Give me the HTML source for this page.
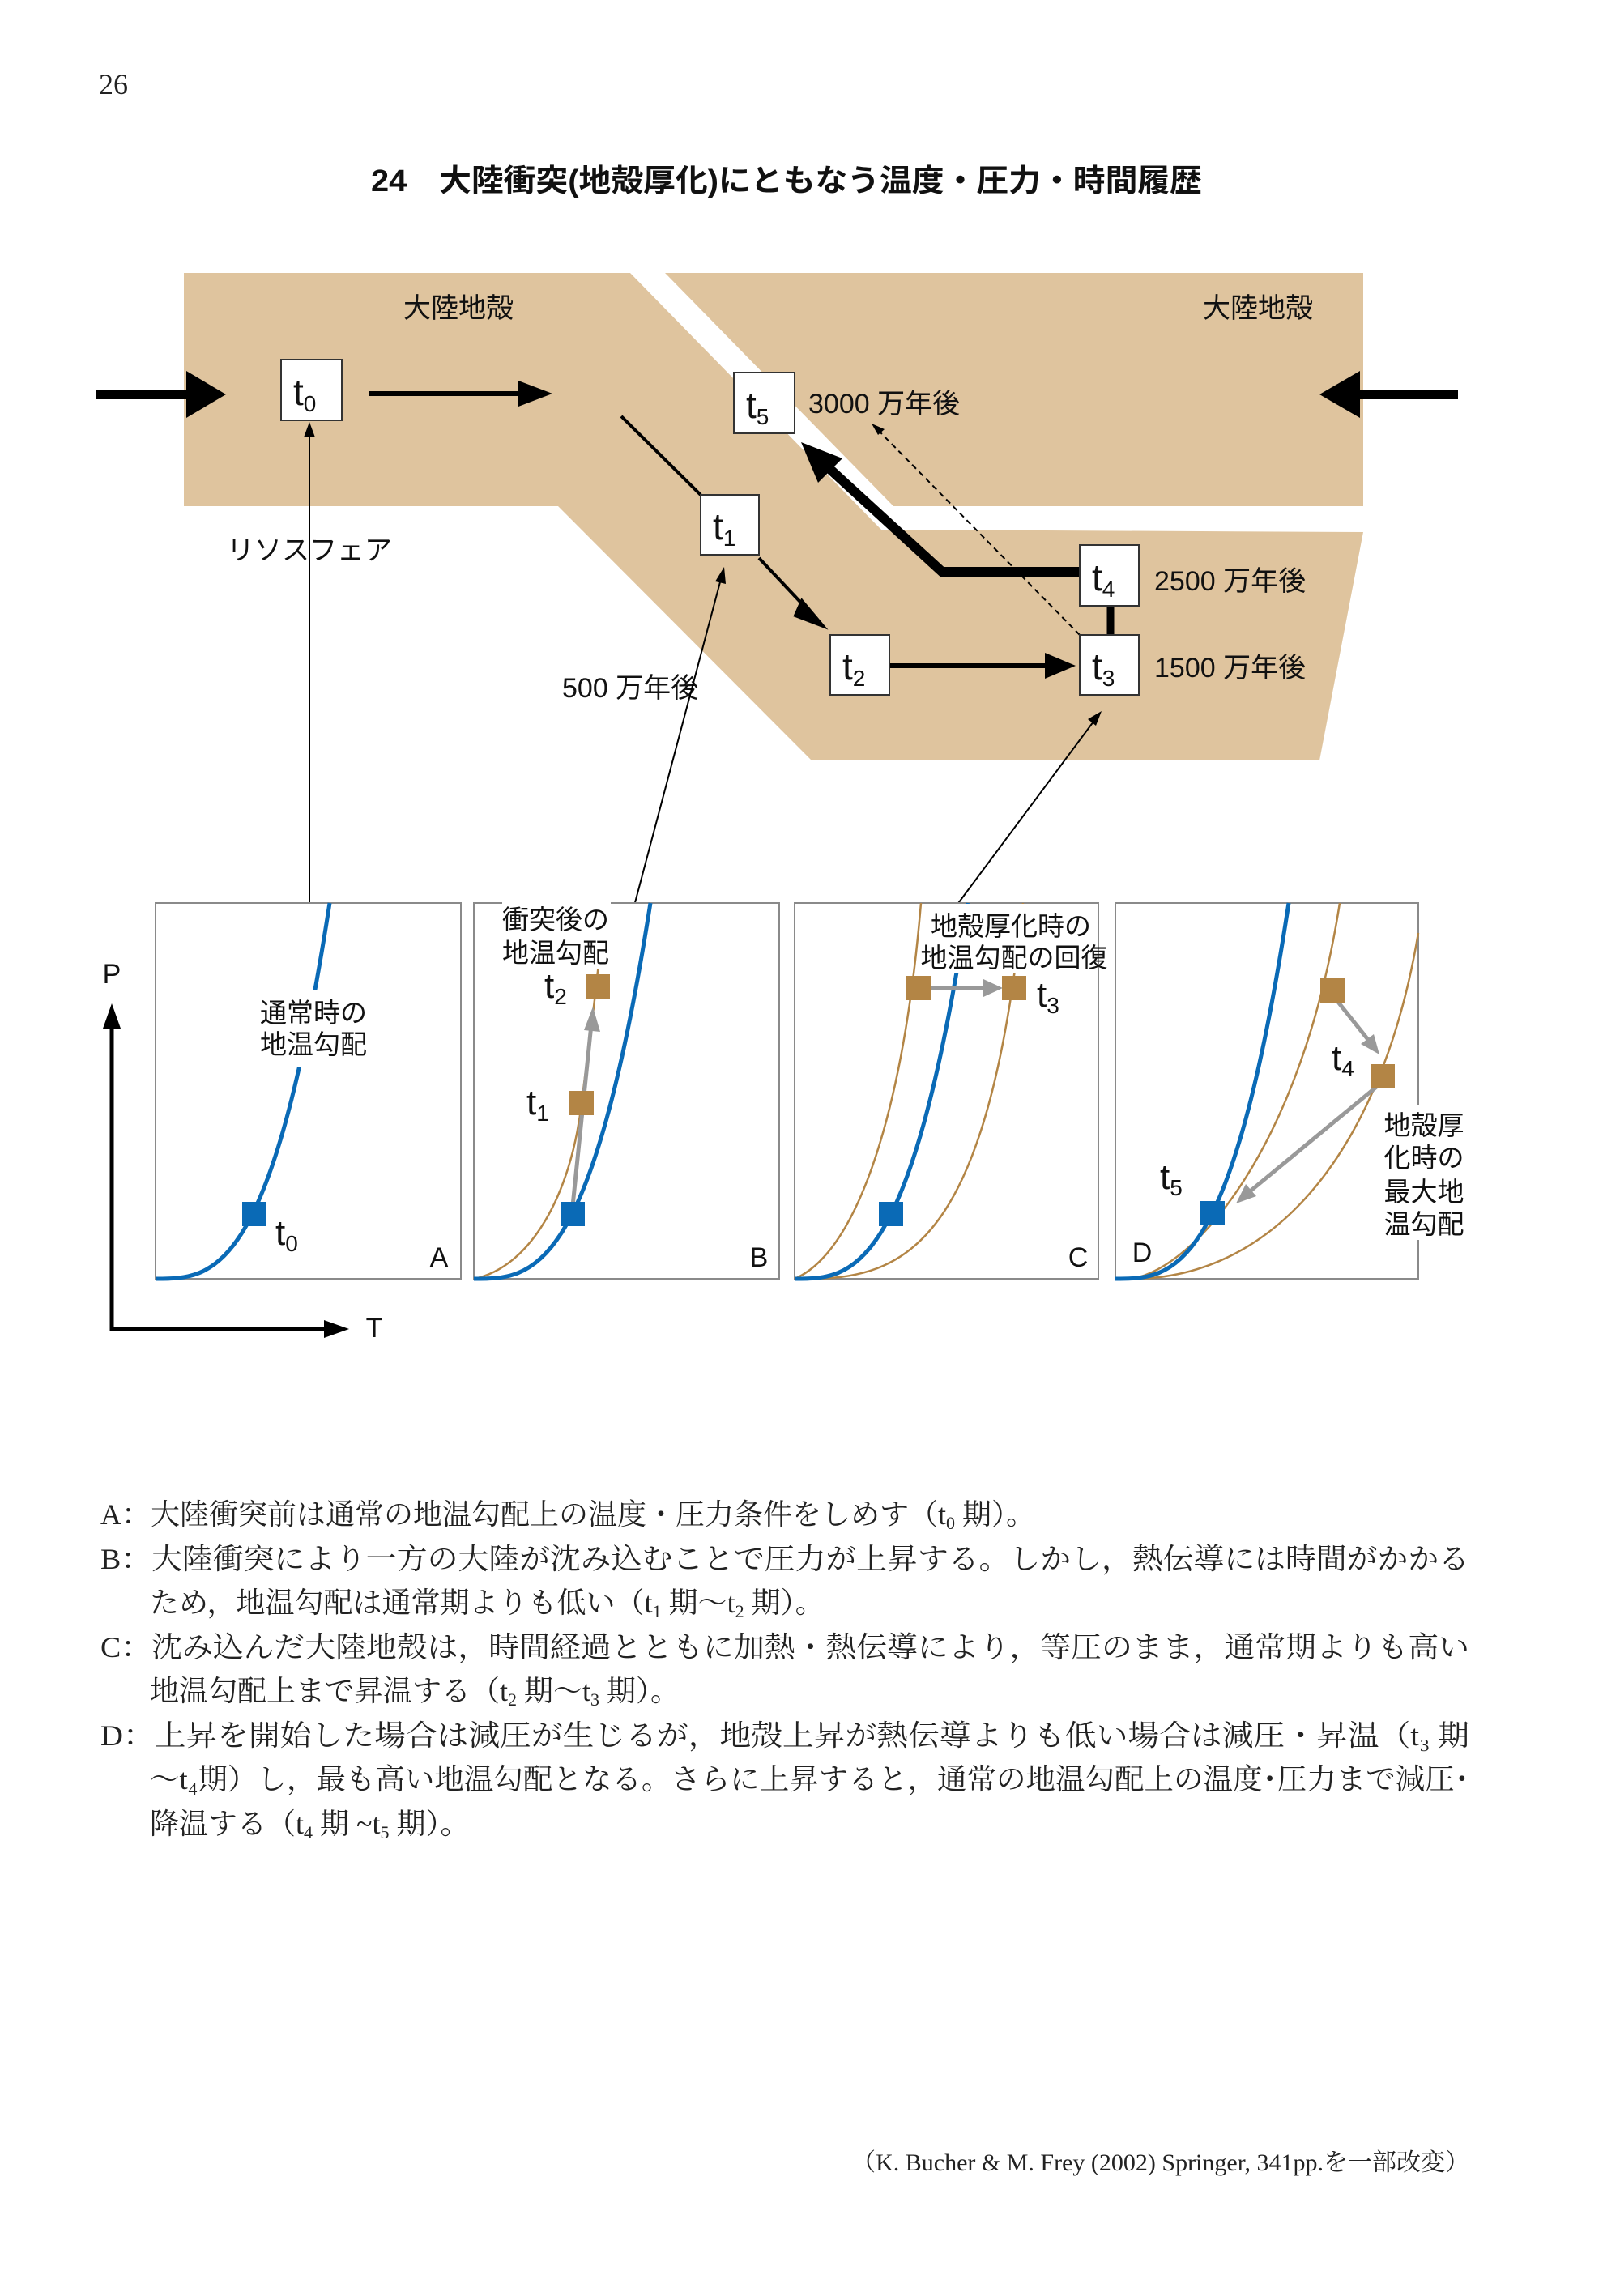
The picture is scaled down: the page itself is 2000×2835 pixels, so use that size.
<!DOCTYPE html>
<html><head><meta charset="utf-8">
<style>
html,body{margin:0;padding:0;background:#fff;}
svg{display:block;}
.s{font-family:"Liberation Sans","Noto Sans CJK JP",sans-serif;}
.r{font-family:"Liberation Serif","Noto Serif CJK SC",serif;}
</style></head><body>
<svg width="2000" height="2835" viewBox="0 0 2000 2835" xmlns="http://www.w3.org/2000/svg">
<rect width="2000" height="2835" fill="#fff"/>
<text x="122" y="116" class="r" font-size="36" fill="#222">26</text>
<text x="458" y="236" class="s" font-size="38" font-weight="bold" fill="#111" textLength="1026" lengthAdjust="spacingAndGlyphs">24　大陸衝突(地殻厚化)にともなう温度・圧力・時間履歴</text>

<polygon points="227,337 778,337 1088,654 1683,657 1629,939 1002,939 689,625 227,625" fill="#dfc49e"/>
<polygon points="821,337 1683,337 1683,625 1103,625" fill="#dfc49e"/>
<g class="s" font-size="34" fill="#111">
<text x="566" y="392" text-anchor="middle">大陸地殻</text>
<text x="1553" y="392" text-anchor="middle">大陸地殻</text>
<text x="998" y="510">3000 万年後</text>
<text x="1425" y="729">2500 万年後</text>
<text x="1425" y="836">1500 万年後</text>
<text x="694" y="861">500 万年後</text>
<text x="382" y="691" text-anchor="middle">リソスフェア</text>
</g>

<rect x="118" y="481" width="122" height="12" fill="#000"/>
<polygon points="230,458 279,487 230,516" fill="#000"/>
<rect x="1670" y="481" width="130" height="12" fill="#000"/>
<polygon points="1679,458 1629,487 1679,516" fill="#000"/>
<line x1="456" y1="486" x2="650" y2="486" stroke="#000" stroke-width="6"/>
<polygon points="640,470 682,486 640,502" fill="#000"/>
<line x1="767" y1="514" x2="865" y2="611" stroke="#000" stroke-width="4"/>
<line x1="937" y1="689" x2="1000" y2="756" stroke="#000" stroke-width="4"/>
<polygon points="990,742 1016,773 982,760" fill="#000" stroke="#000" stroke-width="4" stroke-linejoin="miter"/>
<line x1="1098" y1="822" x2="1300" y2="822" stroke="#000" stroke-width="6"/>
<polygon points="1290,806 1328,822 1290,838" fill="#000"/>
<line x1="1371" y1="746" x2="1371" y2="786" stroke="#000" stroke-width="9"/>
<polyline points="1333,706 1163,706 1020,575" fill="none" stroke="#000" stroke-width="12" stroke-linejoin="miter"/>
<polygon points="989,546 1040,566 1010,596" fill="#000"/>
<line x1="1333" y1="784" x2="1084" y2="531" stroke="#000" stroke-width="2" stroke-dasharray="7,5"/>
<polygon points="1076,523 1092,530 1084,537" fill="#000"/>
<line x1="382" y1="1115" x2="382" y2="535" stroke="#000" stroke-width="2"/>
<polygon points="382,521 375,540 389,540" fill="#000"/>
<line x1="782" y1="1122" x2="890" y2="715" stroke="#000" stroke-width="2"/>
<polygon points="894,700 883,718 896,721" fill="#000"/>
<line x1="1178" y1="1122" x2="1350" y2="891" stroke="#000" stroke-width="2"/>
<polygon points="1360,878 1343,888 1353,896" fill="#000"/>

<g stroke="#333" stroke-width="2" fill="#fff">
<rect x="347" y="444" width="75" height="75"/>
<rect x="906" y="460" width="75" height="75"/>
<rect x="865" y="611" width="72" height="74"/>
<rect x="1333" y="673" width="73" height="75"/>
<rect x="1333" y="784" width="73" height="74"/>
<rect x="1025" y="784" width="73" height="74"/>
</g>
<g class="s" font-size="46" fill="#111">
<text x="362" y="500">t<tspan font-size="28" dy="8">0</tspan></text>
<text x="921" y="516">t<tspan font-size="28" dy="8">5</tspan></text>
<text x="880" y="666">t<tspan font-size="28" dy="8">1</tspan></text>
<text x="1348" y="729">t<tspan font-size="28" dy="8">4</tspan></text>
<text x="1348" y="839">t<tspan font-size="28" dy="8">3</tspan></text>
<text x="1040" y="839">t<tspan font-size="28" dy="8">2</tspan></text>
</g>

<g fill="#fff" stroke="#8a8a8a" stroke-width="2">
<rect x="192" y="1115" width="377" height="464"/>
<rect x="585" y="1115" width="377" height="464"/>
<rect x="981" y="1115" width="375" height="464"/>
<rect x="1377" y="1115" width="374" height="464"/>
</g>
<g transform="translate(192,1115)" fill="none">
<path d="M0,464 C72,464 143,464 215,0" stroke="#0a6ab6" stroke-width="5"/>
</g>
<g transform="translate(585,1115)" fill="none">
<path d="M0,464 C70,450 120,360 133,247 C140,190 150,120 155,64" stroke="#b38545" stroke-width="2.5"/>
<path d="M0,464 C73,464 145,464 218,0" stroke="#0a6ab6" stroke-width="5"/>
</g>
<g transform="translate(981,1115)" fill="none">
<path d="M0,464 C80,430 135,250 156,0" stroke="#b38545" stroke-width="2.5"/>
<path d="M20,464 C150,464 240,400 282,0" stroke="#b38545" stroke-width="2.5"/>
<path d="M0,464 C71,464 143,464 214,0" stroke="#0a6ab6" stroke-width="5"/>
</g>
<g transform="translate(1377,1115)" fill="none">
<path d="M20,464 C100,450 230,300 277,0" stroke="#b38545" stroke-width="2.5"/>
<path d="M20,464 C200,464 330,300 374,37" stroke="#b38545" stroke-width="2.5"/>
<path d="M0,464 C71,464 143,464 214,0" stroke="#0a6ab6" stroke-width="5"/>
</g>

<g fill="#fff">
<rect x="328" y="1222" width="118" height="96"/>
<rect x="620" y="1106" width="134" height="90"/>
<rect x="1152" y="1116" width="202" height="86"/>
<rect x="1705" y="1365" width="108" height="166"/>
</g>
<g class="s" font-size="33" fill="#111" text-anchor="middle">
<text x="387" y="1262">通常時の</text>
<text x="387" y="1301">地温勾配</text>
<text x="686" y="1147">衝突後の</text>
<text x="686" y="1188">地温勾配</text>
<text x="1248" y="1155">地殻厚化時の</text>
<text x="1252" y="1194">地温勾配の回復</text>
<text x="1758" y="1401">地殻厚</text>
<text x="1758" y="1441">化時の</text>
<text x="1758" y="1483">最大地</text>
<text x="1758" y="1523">温勾配</text>
</g>

<g stroke="#999" stroke-width="5" fill="#999">
<line x1="707" y1="1489" x2="730" y2="1265"/>
<polygon points="732,1243 721,1272 741,1274" stroke="none"/>
<line x1="1150" y1="1220" x2="1218" y2="1220"/>
<polygon points="1238,1220 1214,1209 1214,1231" stroke="none"/>
<line x1="1651" y1="1236" x2="1690" y2="1285"/>
<polygon points="1703,1302 1680,1289 1696,1277" stroke="none"/>
<line x1="1703" y1="1339" x2="1542" y2="1472"/>
<polygon points="1526,1486 1538,1462 1551,1477" stroke="none"/>
</g>

<g fill="#b38545">
<rect x="703" y="1347" width="30" height="30"/>
<rect x="723" y="1203" width="30" height="30"/>
<rect x="1119" y="1205" width="30" height="30"/>
<rect x="1237" y="1205" width="30" height="30"/>
<rect x="1630" y="1208" width="30" height="30"/>
<rect x="1692" y="1314" width="30" height="30"/>
</g>
<g fill="#0a6ab6">
<rect x="299" y="1484" width="30" height="30"/>
<rect x="692" y="1484" width="30" height="30"/>
<rect x="1085" y="1484" width="30" height="30"/>
<rect x="1482" y="1483" width="30" height="30"/>
</g>

<g class="s" font-size="44" fill="#111">
<text x="340" y="1537">t<tspan font-size="28" dy="8">0</tspan></text>
<text x="672" y="1232">t<tspan font-size="28" dy="8">2</tspan></text>
<text x="650" y="1376">t<tspan font-size="28" dy="8">1</tspan></text>
<text x="1280" y="1243">t<tspan font-size="28" dy="8">3</tspan></text>
<text x="1644" y="1321">t<tspan font-size="28" dy="8">4</tspan></text>
<text x="1432" y="1468">t<tspan font-size="28" dy="8">5</tspan></text>
</g>
<g class="s" font-size="34" fill="#111" text-anchor="middle">
<text x="542" y="1564">A</text>
<text x="937" y="1564">B</text>
<text x="1331" y="1564">C</text>
<text x="1410" y="1558">D</text>
<text x="138" y="1214">P</text>
<text x="462" y="1651">T</text>
</g>

<line x1="138" y1="1643" x2="138" y2="1262" stroke="#000" stroke-width="5"/>
<polygon points="138,1239 127,1270 149,1270" fill="#000"/>
<line x1="136" y1="1641" x2="408" y2="1641" stroke="#000" stroke-width="5"/>
<polygon points="431,1641 400,1630 400,1652" fill="#000"/>

<g class="r" font-size="36" fill="#222">
<text x="124" y="1882">A：大陸衝突前は通常の地温勾配上の温度・圧力条件をしめす（t<tspan font-size="22" dy="6">0</tspan><tspan dy="-6"> 期）。</tspan></text>
<text x="124" y="1937" textLength="1690" lengthAdjust="spacingAndGlyphs">B：大陸衝突により一方の大陸が沈み込むことで圧力が上昇する。しかし，熱伝導には時間がかかる</text>
<text x="185" y="1991">ため，地温勾配は通常期よりも低い（t<tspan font-size="22" dy="6">1</tspan><tspan dy="-6"> 期～t</tspan><tspan font-size="22" dy="6">2</tspan><tspan dy="-6"> 期）。</tspan></text>
<text x="124" y="2046" textLength="1690" lengthAdjust="spacingAndGlyphs">C：沈み込んだ大陸地殻は，時間経過とともに加熱・熱伝導により，等圧のまま，通常期よりも高い</text>
<text x="185" y="2100">地温勾配上まで昇温する（t<tspan font-size="22" dy="6">2</tspan><tspan dy="-6"> 期～t</tspan><tspan font-size="22" dy="6">3</tspan><tspan dy="-6"> 期）。</tspan></text>
<text x="124" y="2155" textLength="1690" lengthAdjust="spacingAndGlyphs">D：上昇を開始した場合は減圧が生じるが，地殻上昇が熱伝導よりも低い場合は減圧・昇温（t₃ 期</text>
<text x="185" y="2209" textLength="1629" lengthAdjust="spacingAndGlyphs">～t₄期）し，最も高い地温勾配となる。さらに上昇すると，通常の地温勾配上の温度･圧力まで減圧･</text>
<text x="185" y="2264">降温する（t<tspan font-size="22" dy="6">4</tspan><tspan dy="-6"> 期 ~t</tspan><tspan font-size="22" dy="6">5</tspan><tspan dy="-6"> 期）。</tspan></text>
<text x="1814" y="2680" font-size="30" text-anchor="end">（K. Bucher &amp; M. Frey (2002) Springer, 341pp.を一部改変）</text>
</g>
</svg>
</body></html>
